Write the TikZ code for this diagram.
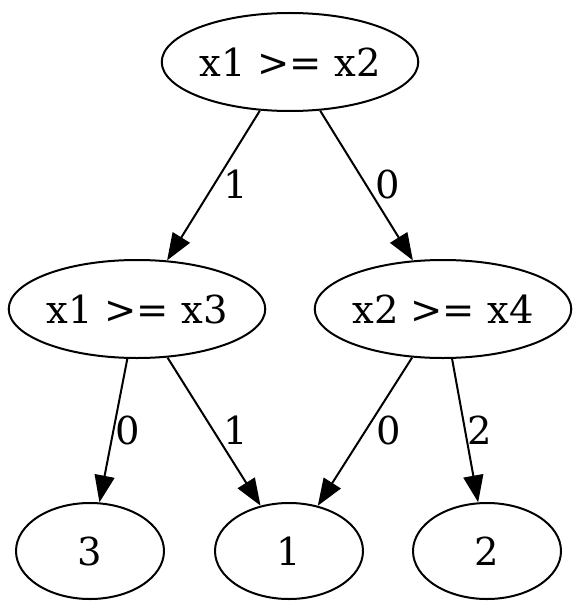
\documentclass[tikz,border=0pt]{standalone}
\usepackage{fontspec}
\setmainfont{DejaVu Serif}
\usetikzlibrary{shapes.geometric,arrows.meta}
\begin{document}
\begin{tikzpicture}[x=1pt,y=-1pt,
  wide/.style={ellipse,draw,line width=2pt,minimum width=255pt,minimum height=98pt,inner sep=0pt,font=\fontsize{38.5}{46}\selectfont},
  leaf/.style={ellipse,draw,line width=2pt,minimum width=148pt,minimum height=96pt,inner sep=0pt,font=\fontsize{38.5}{46}\selectfont},
  edge/.style={draw,line width=2pt,-{Triangle[length=27pt,width=20pt]}},
  lbl/.style={font=\fontsize{38.5}{46}\selectfont,inner sep=0pt}]
\useasboundingbox (0,0) rectangle (581,615);
\node[wide] (r) at (290,62) {x1 >= x2};
\node[wide] (a) at (137,309) {x1 >= x3};
\node[wide] (b) at (443,309) {x2 >= x4};
\node[leaf] (l3) at (90,551) {3};
\node[leaf] (l1) at (289,551) {1};
\node[leaf] (l2) at (487,551) {2};
\path[edge] (r) -- (a);
\path[edge] (r) -- (b);
\path[edge] (a) -- (l3);
\path[edge] (a) -- (l1);
\path[edge] (b) -- (l1);
\path[edge] (b) -- (l2);
\node[lbl] (t1) at (236,184) {1};
\node[lbl] (t2) at (388,184) {0};
\node[lbl] (t3) at (128,430) {0};
\node[lbl] (t4) at (236,430) {1};
\node[lbl] (t5) at (389,430) {0};
\node[lbl] (t6) at (480,430) {2};
\end{tikzpicture}
\end{document}
